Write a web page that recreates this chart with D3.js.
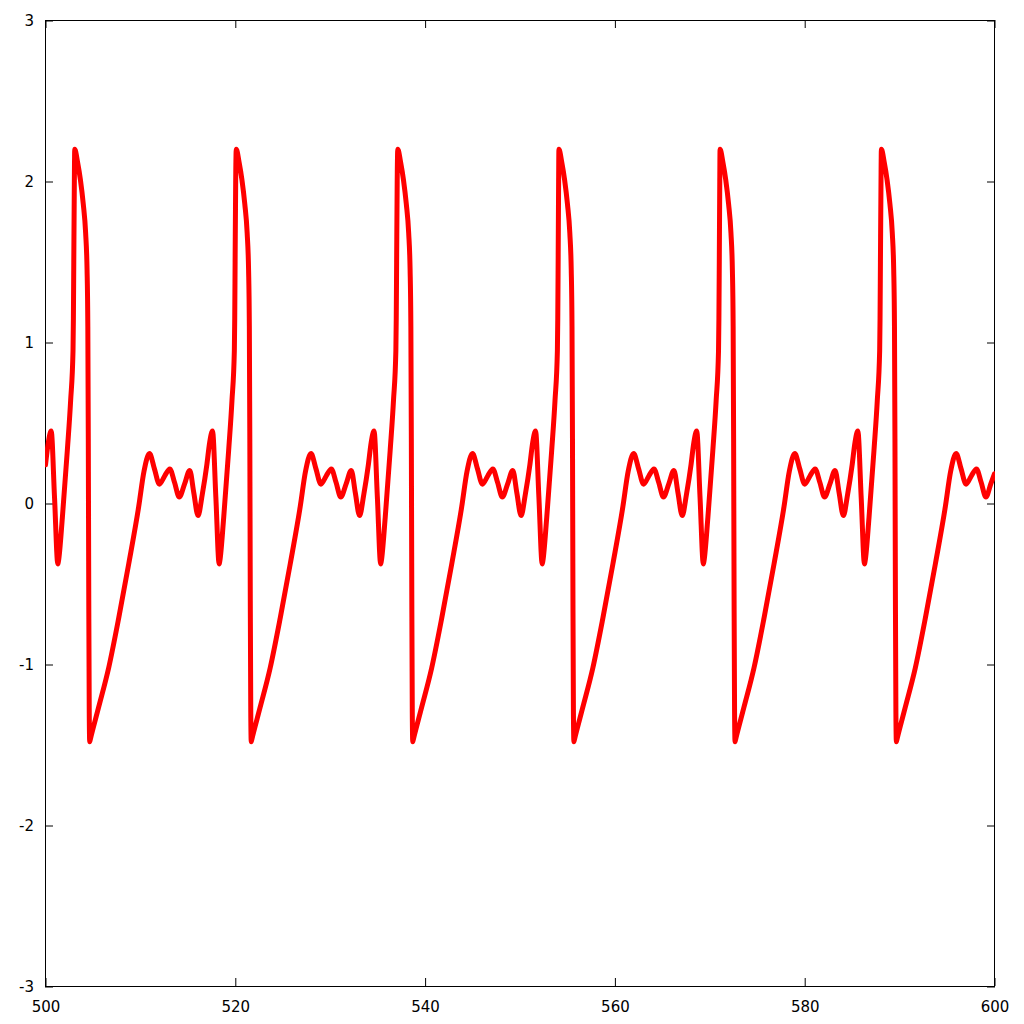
<!DOCTYPE html>
<html>
<head>
<meta charset="utf-8">
<script src="https://d3js.org/d3.v7.min.js"></script>
<style>
    body { margin: 0; background: #fff; }
    .line { fill: none; stroke: #ff0000; stroke-width: 5; stroke-linejoin: round; stroke-linecap: round; }
</style>
</head>
<body>
<div id="chart"></div>
<script>

// tick values
var xTicks = [500, 520, 540, 560, 580, 600];
var yTicks = [-3, -2, -1, 0, 1, 2, 3];

// series: [x, y]
var lead = [
    [500.00, 0.24], [500.30, 0.38], [500.60, 0.45], [500.95, 0.04], [501.30, -0.375],
    [501.36, -0.36], [501.78, -0.085], [502.30, 0.33], [502.65, 0.64], [502.90, 0.95], [502.94, 1.15], [502.98, 1.50], [503.04, 2.00]
];

var cycle1 = [
    [503.08, 2.20], [503.38, 2.12], [503.68, 2.01], [503.98, 1.86], [504.23, 1.68], [504.38, 1.45],
    [504.46, 1.10], [504.51, 0.40], [504.56, -0.60], [504.61, -1.30], [504.66, -1.48], [504.73, -1.463],
    [505.58, -1.27], [506.66, -1.02], [507.72, -0.71], [508.77, -0.375], [509.82, -0.02],
    [510.38, 0.20], [510.96, 0.31], [511.48, 0.215], [512.00, 0.12], [512.55, 0.17],
    [513.10, 0.215], [513.60, 0.13], [514.10, 0.04], [514.65, 0.12], [515.20, 0.205],
    [515.63, 0.065], [516.07, -0.075], [516.53, 0.06], [517.00, 0.24], [517.30, 0.38],
    [517.60, 0.45], [517.95, 0.04], [518.30, -0.375], [518.36, -0.36], [518.78, -0.085], [519.30, 0.33],
    [519.65, 0.64], [519.90, 0.95], [519.94, 1.15], [519.98, 1.50], [520.04, 2.00]
];

var cycle2 = [
    [520.10, 2.20], [520.40, 2.12], [520.70, 2.01], [521.00, 1.86], [521.25, 1.68], [521.40, 1.45],
    [521.48, 1.10], [521.53, 0.40], [521.58, -0.60], [521.63, -1.30], [521.68, -1.48], [521.75, -1.463],
    [522.60, -1.27], [523.68, -1.02], [524.74, -0.71], [525.79, -0.375], [526.84, -0.02],
    [527.40, 0.20], [527.98, 0.31], [528.50, 0.215], [529.02, 0.12], [529.57, 0.17],
    [530.12, 0.215], [530.62, 0.13], [531.12, 0.04], [531.67, 0.12], [532.22, 0.205],
    [532.65, 0.065], [533.09, -0.075], [533.55, 0.06], [534.02, 0.24], [534.32, 0.38],
    [534.62, 0.45], [534.97, 0.04], [535.32, -0.375], [535.38, -0.36], [535.80, -0.085], [536.32, 0.33],
    [536.67, 0.64], [536.92, 0.95], [536.96, 1.15], [537.00, 1.50], [537.06, 2.00]
];

var cycle3 = [
    [537.12, 2.20], [537.42, 2.12], [537.72, 2.01], [538.02, 1.86], [538.27, 1.68], [538.42, 1.45],
    [538.50, 1.10], [538.55, 0.40], [538.60, -0.60], [538.65, -1.30], [538.70, -1.48], [538.77, -1.463],
    [539.62, -1.27], [540.70, -1.02], [541.76, -0.71], [542.81, -0.375], [543.86, -0.02],
    [544.42, 0.20], [545.00, 0.31], [545.52, 0.215], [546.04, 0.12], [546.59, 0.17],
    [547.14, 0.215], [547.64, 0.13], [548.14, 0.04], [548.69, 0.12], [549.24, 0.205],
    [549.67, 0.065], [550.11, -0.075], [550.57, 0.06], [551.04, 0.24], [551.34, 0.38],
    [551.64, 0.45], [551.99, 0.04], [552.34, -0.375], [552.40, -0.36], [552.82, -0.085], [553.34, 0.33],
    [553.69, 0.64], [553.94, 0.95], [553.98, 1.15], [554.02, 1.50], [554.07, 2.00]
];

var cycle4 = [
    [554.10, 2.20], [554.40, 2.12], [554.70, 2.01], [555.00, 1.86], [555.25, 1.68], [555.40, 1.45],
    [555.48, 1.10], [555.53, 0.40], [555.58, -0.60], [555.63, -1.30], [555.68, -1.48], [555.75, -1.463],
    [556.60, -1.27], [557.68, -1.02], [558.74, -0.71], [559.79, -0.375], [560.84, -0.02],
    [561.40, 0.20], [561.98, 0.31], [562.50, 0.215], [563.02, 0.12], [563.57, 0.17],
    [564.12, 0.215], [564.62, 0.13], [565.12, 0.04], [565.67, 0.12], [566.22, 0.205],
    [566.65, 0.065], [567.09, -0.075], [567.55, 0.06], [568.02, 0.24], [568.32, 0.38],
    [568.62, 0.45], [568.97, 0.04], [569.32, -0.375], [569.38, -0.36], [569.80, -0.085], [570.32, 0.33],
    [570.67, 0.64], [570.92, 0.95], [570.96, 1.15], [571.00, 1.50], [571.05, 2.00]
];

var cycle5 = [
    [571.08, 2.20], [571.38, 2.12], [571.68, 2.01], [571.98, 1.86], [572.23, 1.68], [572.38, 1.45],
    [572.46, 1.10], [572.51, 0.40], [572.56, -0.60], [572.61, -1.30], [572.66, -1.48], [572.73, -1.463],
    [573.58, -1.27], [574.66, -1.02], [575.72, -0.71], [576.77, -0.375], [577.82, -0.02],
    [578.38, 0.20], [578.96, 0.31], [579.48, 0.215], [580.00, 0.12], [580.55, 0.17],
    [581.10, 0.215], [581.60, 0.13], [582.10, 0.04], [582.65, 0.12], [583.20, 0.205],
    [583.63, 0.065], [584.07, -0.075], [584.53, 0.06], [585.00, 0.24], [585.30, 0.38],
    [585.60, 0.45], [585.95, 0.04], [586.30, -0.375], [586.36, -0.36], [586.78, -0.085], [587.30, 0.33],
    [587.65, 0.64], [587.90, 0.95], [587.94, 1.15], [587.98, 1.50], [588.04, 2.00]
];

var cycle6 = [
    [588.08, 2.20], [588.38, 2.12], [588.68, 2.01], [588.98, 1.86], [589.23, 1.68], [589.38, 1.45],
    [589.46, 1.10], [589.51, 0.40], [589.56, -0.60], [589.61, -1.30], [589.66, -1.48], [589.73, -1.463],
    [590.58, -1.27], [591.66, -1.02], [592.72, -0.71], [593.77, -0.375], [594.82, -0.02],
    [595.38, 0.20], [595.96, 0.31], [596.48, 0.215], [597.00, 0.12], [597.55, 0.17],
    [598.10, 0.215], [598.60, 0.13], [599.10, 0.04], [599.60, 0.12], [600.00, 0.185]
];

var series = lead.concat(cycle1, cycle2, cycle3, cycle4, cycle5, cycle6);

var margin = { top: 20, right: 29, bottom: 38, left: 45 };
var width = 1024 - margin.left - margin.right,
    height = 1024 - margin.top - margin.bottom;

var svg = d3.select("#chart").append("svg")
    .attr("width", 1024)
    .attr("height", 1024)
    .append("g")
    .attr("transform", "translate(" + margin.left + "," + margin.top + ")");

var x = d3.scaleLinear().domain([500, 600]).range([0.5, width - 0.5]);
var y = d3.scaleLinear().domain([-3, 3]).range([height + 0.5, 0.5]);

svg.append("defs").append("clipPath")
    .attr("id", "clip")
    .append("rect")
    .attr("width", width)
    .attr("height", height);

var tickLen = 8;
var plain = function (d) { return String(d); };   // hyphen minus like the original

// ticks on all four sides, pointing inward
var xAxisBottom = d3.axisBottom(x).tickValues(xTicks).tickSizeInner(-tickLen).tickSizeOuter(0).tickFormat(plain);
var xAxisTop = d3.axisTop(x).tickValues(xTicks).tickSizeInner(-tickLen).tickSizeOuter(0).tickFormat("");
var yAxisLeft = d3.axisLeft(y).tickValues(yTicks).tickSizeInner(-tickLen).tickSizeOuter(0).tickFormat(plain);
var yAxisRight = d3.axisRight(y).tickValues(yTicks).tickSizeInner(-tickLen).tickSizeOuter(0).tickFormat("");

function styleAxis(g) {
    g.attr("font-family", null).attr("font-size", null);
    g.select(".domain").remove();
    g.selectAll(".tick line").attr("stroke", "#000").attr("stroke-width", 1);
    g.selectAll(".tick text")
        .attr("fill", "#000")
        .style("font-family", "'DejaVu Sans', sans-serif")
        .style("font-size", "15px");
}

svg.append("g")
    .attr("transform", "translate(0," + height + ")")
    .call(xAxisBottom)
    .call(styleAxis)
    .selectAll(".tick text")
    .attr("y", 15)
    .attr("dy", "0.71em");

svg.append("g")
    .call(xAxisTop)
    .call(styleAxis);

svg.append("g")
    .call(yAxisLeft)
    .call(styleAxis)
    .selectAll(".tick text")
    .attr("x", -11)
    .attr("dy", "0.36em");

svg.append("g")
    .attr("transform", "translate(" + width + ",0)")
    .call(yAxisRight)
    .call(styleAxis);

// frame
svg.append("rect")
    .attr("x", 0.5)
    .attr("y", 0.5)
    .attr("width", width - 1)
    .attr("height", height)
    .attr("fill", "none")
    .attr("stroke", "#000")
    .attr("stroke-width", 1);

var line = d3.line()
    .x(function (d) { return x(d[0]); })
    .y(function (d) { return y(d[1]); })
    .curve(d3.curveMonotoneX);

svg.append("path")
    .attr("class", "line")
    .attr("clip-path", "url(#clip)")
    .attr("d", line(series));

</script>
</body>
</html>
